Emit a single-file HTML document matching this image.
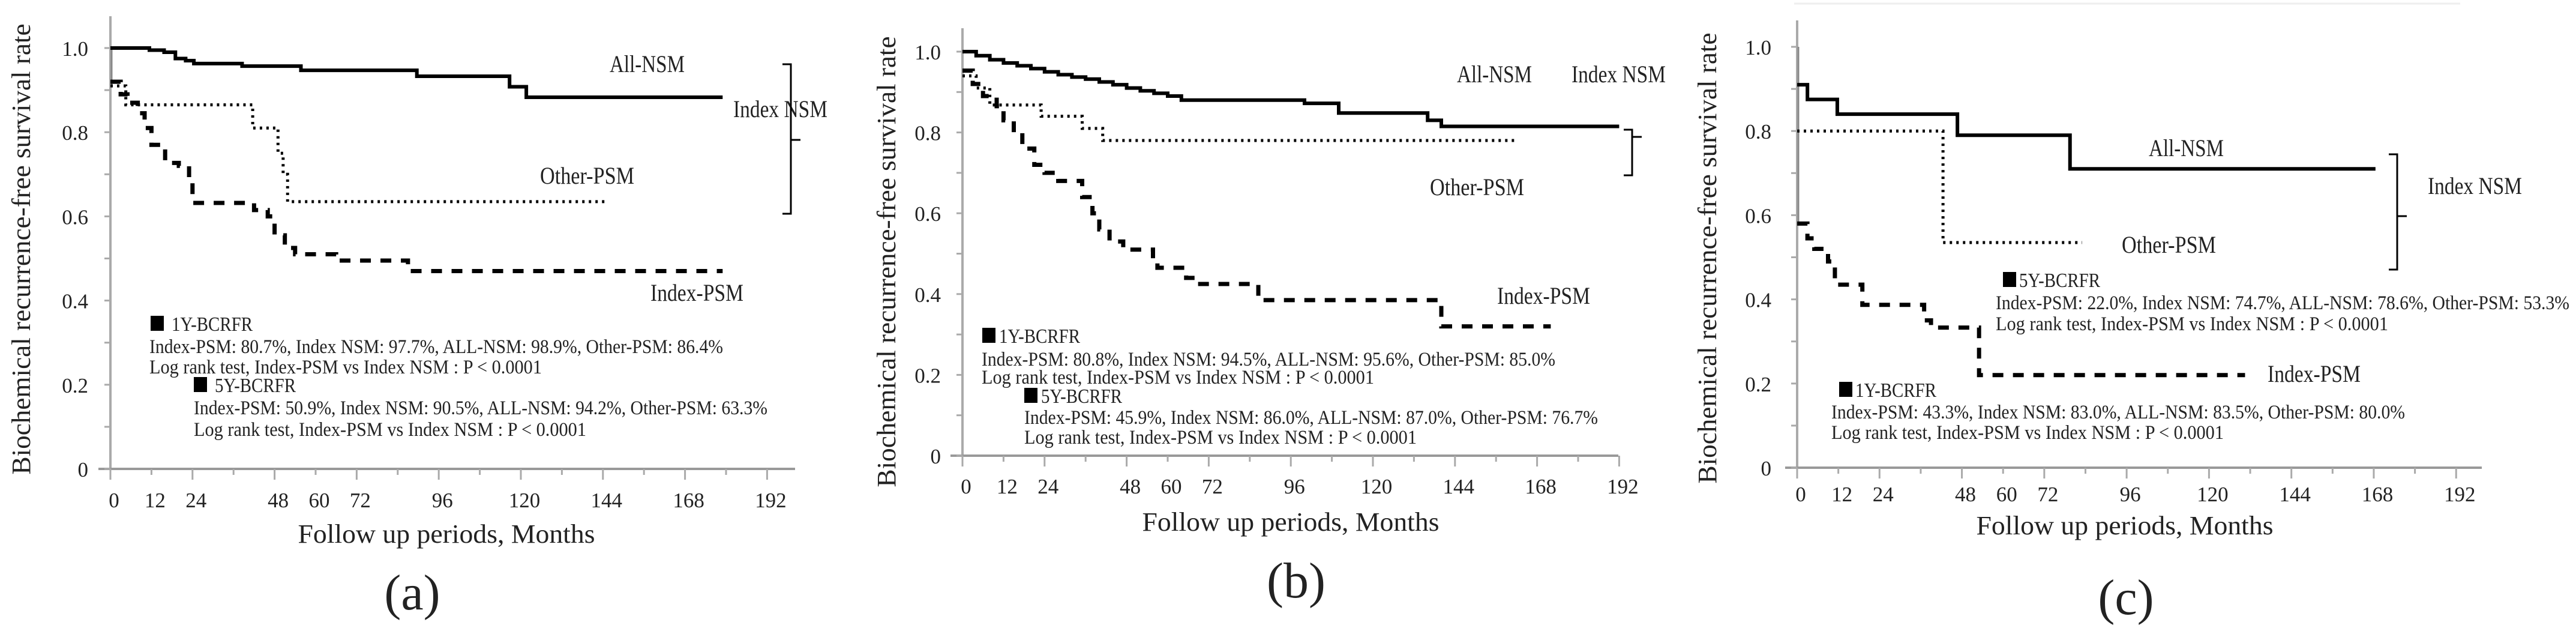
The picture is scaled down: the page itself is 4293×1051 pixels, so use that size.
<!DOCTYPE html>
<html><head><meta charset="utf-8"><style>
html,body{margin:0;padding:0;background:#fff;}
svg{display:block;}
text{font-family:"Liberation Serif",serif;fill:#222;}
</style></head>
<body>
<svg id="fig" width="4293" height="1051" viewBox="0 0 4293 1051" xmlns="http://www.w3.org/2000/svg">
<line x1="2990" y1="6" x2="4100" y2="6" stroke="#eee" stroke-width="3"/>
</svg>
<script>
// ---- data ----
var xTickValues = [0,12,24,48,60,72,96,120,144,168,192];
var xMinorTicks = [0,12,24,36,48,60,72,84,96,108,120,132,144,156,168,180,192];
var yTickValues = [0,0.2,0.4,0.6,0.8,1.0];
var yTickLabels = ["0","0.2","0.4","0.6","0.8","1.0"];

// Panel a
var aAllT = [0,11.4,15.7,19,22,24.4,38.5,55.7,89.6,116.7,121.6];
var aAllV = [1.0,0.995,0.99,0.975,0.97,0.963,0.957,0.947,0.933,0.908,0.883];
var aAllEnd = 179;
var aOtherT = [0,4.5,41.6,49,50.5,51.8];
var aOtherV = [0.91,0.865,0.81,0.75,0.70,0.635];
var aOtherEnd = 145;
var aIndexT = [0,3,5,8,10,12,16,20,23,24,42,46,48,51,54,66,87];
var aIndexV = [0.92,0.89,0.87,0.845,0.81,0.77,0.727,0.72,0.69,0.632,0.615,0.60,0.555,0.525,0.51,0.495,0.47];
var aIndexEnd = 179;

// Panel b
var bAllT = [0,4,8,12,16,20,24,28,32,36,40,44,48,52,56,60,64,100,110,136,140];
var bAllV = [1.0,0.99,0.98,0.972,0.965,0.958,0.95,0.943,0.937,0.932,0.925,0.918,0.91,0.903,0.897,0.89,0.88,0.872,0.848,0.83,0.815];
var bAllEnd = 192;
var bOtherT = [0,4,8,23,35,41];
var bOtherV = [0.94,0.91,0.868,0.84,0.81,0.78];
var bOtherEnd = 162;
var bIndexT = [0,3,6,10,12,15,17.5,21,24,28,35,38,40,43,47,55.7,57,65.4,68.6,86.5,140];
var bIndexV = [0.953,0.92,0.89,0.865,0.83,0.80,0.76,0.72,0.70,0.68,0.64,0.60,0.56,0.53,0.51,0.48,0.465,0.44,0.425,0.385,0.32];
var bIndexEnd = 172;

// Panel c
var cAllT = [0,3,11.7,46.7,79.5];
var cAllV = [0.91,0.875,0.84,0.79,0.71];
var cAllEnd = 168.5;
var cOtherT = [0,42.5];
var cOtherV = [0.80,0.535];
var cOtherEnd = 83;
var cIndexT = [0,3,5,9,11,19,37,39,53];
var cIndexV = [0.58,0.545,0.52,0.49,0.435,0.387,0.35,0.333,0.22];
var cIndexEnd = 130.5;

var NS = "http://www.w3.org/2000/svg";
var svg = document.getElementById("fig");
function mk(tag, attrs, parent){
  var e = document.createElementNS(NS, tag);
  for (var k in attrs) e.setAttribute(k, attrs[k]);
  (parent||svg).appendChild(e);
  return e;
}
function txt(s, x, y, size, len, anchor, parent){
  var t = mk("text", {x:x, y:y, "font-size":size, "text-anchor":anchor||"start"}, parent);
  if (len){ t.setAttribute("textLength", len); t.setAttribute("lengthAdjust","spacingAndGlyphs"); }
  t.textContent = s;
  return t;
}

var panels = [
 {id:"a", x0:184, ppm:5.70, y1:80, y0:781, top:27, right:1325, tickLabelX:147, xLabelY:845, yTitleX:50, yTitleY:415,
  xTitleX:744, xTitleY:904, capX:687, capY:1015,
  series:[[aAllT,aAllV,aAllEnd,"all-nsm"],[aOtherT,aOtherV,aOtherEnd,"other-psm"],[aIndexT,aIndexV,aIndexEnd,"index-psm"]],
  startDrop:[0.91,0.92],
  labels:[["All-NSM",1016,120,125],["Index NSM",1222,195,157],["Other-PSM",900,306,157],["Index-PSM",1084,501,155]],
  bracket:[1318,107,356,233],
  notes:[["1Y",251,286,551,[["Index-PSM: 80.7%, Index NSM: 97.7%, ALL-NSM: 98.9%, Other-PSM: 86.4%",588],["Log rank test, Index-PSM vs Index NSM : P < 0.0001",622]],249],
         ["5Y",323,358,653,[["Index-PSM: 50.9%, Index NSM: 90.5%, ALL-NSM: 94.2%, Other-PSM: 63.3%",690],["Log rank test, Index-PSM vs Index NSM : P < 0.0001",726]],323]]},
 {id:"b", x0:1604, ppm:5.70, y1:86, y0:759, top:47, right:2697, tickLabelX:1568, xLabelY:822, yTitleX:1492, yTitleY:436,
  xTitleX:2151, xTitleY:884, capX:2160, capY:995,
  series:[[bAllT,bAllV,bAllEnd,"all-nsm"],[bOtherT,bOtherV,bOtherEnd,"other-psm"],[bIndexT,bIndexV,bIndexEnd,"index-psm"]],
  startDrop:null,
  labels:[["All-NSM",2428,137,125],["Index NSM",2619,137,157],["Other-PSM",2383,325,157],["Index-PSM",2495,506,155]],
  bracket:[2720,216,292,228],
  notes:[["1Y",1637,1665,571,[["Index-PSM: 80.8%, Index NSM: 94.5%, ALL-NSM: 95.6%, Other-PSM: 85.0%",609],["Log rank test, Index-PSM vs Index NSM : P < 0.0001",639]],1636],
         ["5Y",1707,1735,671,[["Index-PSM: 45.9%, Index NSM: 86.0%, ALL-NSM: 87.0%, Other-PSM: 76.7%",706],["Log rank test, Index-PSM vs Index NSM : P < 0.0001",739]],1707]]},
 {id:"c", x0:2995, ppm:5.72, y1:78, y0:779, top:34, right:4136, tickLabelX:2952, xLabelY:835, yTitleX:2860, yTitleY:430,
  xTitleX:3541, xTitleY:890, capX:3543, capY:1023,
  series:[[cAllT,cAllV,cAllEnd,"all-nsm"],[cOtherT,cOtherV,cOtherEnd,"other-psm"],[cIndexT,cIndexV,cIndexEnd,"index-psm"]],
  startDrop:[0.91,0.58],
  labels:[["All-NSM",3581,260,125],["Index NSM",4046,323,157],["Other-PSM",3536,421,157],["Index-PSM",3779,636,155]],
  bracket:[3995,257,449,360],
  notes:[["5Y",3338,3365,478,[["Index-PSM: 22.0%, Index NSM: 74.7%, ALL-NSM: 78.6%, Other-PSM: 53.3%",515],["Log rank test, Index-PSM vs Index NSM : P < 0.0001",550]],3326],
         ["1Y",3065,3092,661,[["Index-PSM: 43.3%, Index NSM: 83.0%, ALL-NSM: 83.5%, Other-PSM: 80.0%",697],["Log rank test, Index-PSM vs Index NSM : P < 0.0001",731]],3052]]}
];

var styles = {
  "all-nsm":{w:6, dash:null},
  "other-psm":{w:5, dash:"4 7"},
  "index-psm":{w:7, dash:"18 16"}
};

panels.forEach(function(p){
  var g = mk("g", {});
  
  
  function X(m){ return p.x0 + m*p.ppm; }
  function Y(v){ return p.y0 - v*(p.y0 - p.y1); }

  var ya = mk("line", {x1:p.x0, y1:p.top, x2:p.x0, y2:p.y0, stroke:"#aaa", "stroke-width":4}, g);
  
  
  var xa = mk("line", {x1:p.x0-20, y1:p.y0, x2:p.right, y2:p.y0, stroke:"#999", "stroke-width":4}, g);
  
  

  xMinorTicks.forEach(function(m){
    var major = (m % 24 === 0);
    var tk = mk("line", {x1:X(m), y1:p.y0, x2:X(m), y2:p.y0 + (major?18:10), stroke:"#aaa", "stroke-width":3}, g);
    
    
  });
  for (var i=0;i<=10;i++){
    var tk = mk("line", {x1:p.x0-10, y1:Y(i/10), x2:p.x0, y2:Y(i/10), stroke:"#aaa", "stroke-width":3}, g);
    
    
  }
  xTickValues.forEach(function(m){
    var t = txt(String(m), X(m)+6, p.xLabelY, 35, null, "middle", g);
    
    
  });
  yTickValues.forEach(function(v, i){
    var t = txt(yTickLabels[i], p.tickLabelX, Y(v)+13, 35, null, "end", g);
    
    
  });

  var yt = mk("text", {x:0, y:0, "font-size":44, "text-anchor":"middle", textLength:751, lengthAdjust:"spacingAndGlyphs",
    transform:"translate("+p.yTitleX+","+p.yTitleY+") rotate(-90)"}, g);
  yt.textContent = "Biochemical recurrence-free survival rate";
  
  
  var xt = txt("Follow up periods, Months", p.xTitleX, p.xTitleY, 44, 495, "middle", g);
  
  
  var cap = txt("(" + p.id + ")", p.capX, p.capY, 84, null, "middle", g);
  
  

  if (p.startDrop){
    p.startDrop.forEach(function(v){
      var dl = mk("line", {x1:X(0)+2, y1:Y(1), x2:X(0)+2, y2:Y(v), stroke:"#888", "stroke-width":3}, g);
      
      
    });
  }

  p.series.forEach(function(s){
    var T = s[0], V = s[1], end = s[2], key = s[3];
    var d = "M" + X(T[0]) + " " + Y(V[0]);
    for (var i=1;i<T.length;i++){ d += " H" + X(T[i]) + " V" + Y(V[i]); }
    d += " H" + X(end);
    var st = styles[key];
    var path = mk("path", {d:d, fill:"none", stroke:"#000", "stroke-width":st.w}, g);
    if (st.dash) path.setAttribute("stroke-dasharray", st.dash);
    
    
  });

  p.labels.forEach(function(l){
    var t = txt(l[0], l[1], l[2], 40, l[3], "start", g);
    
    
  });

  var b = p.bracket;
  var br = mk("path", {d:"M"+(b[0]-14)+" "+b[1]+" H"+b[0]+" V"+b[2]+" H"+(b[0]-14)+" M"+b[0]+" "+b[3]+" H"+(b[0]+16),
    fill:"none", stroke:"#000", "stroke-width":3}, g);
  
  

  p.notes.forEach(function(n){
    var sq = mk("rect", {x:n[1], y:n[3]-25, width:22, height:25, fill:"#000"}, g);
    
    
    var h = txt(n[0] + "-BCRFR", n[2], n[3], 34, 135, "start", g);
    
    
    n[4].forEach(function(line, k){
      var t = txt(line[0], n[5], line[1], 33, k===0?956:654, "start", g);
      
      
    });
  });
});
</script>
</body></html>
